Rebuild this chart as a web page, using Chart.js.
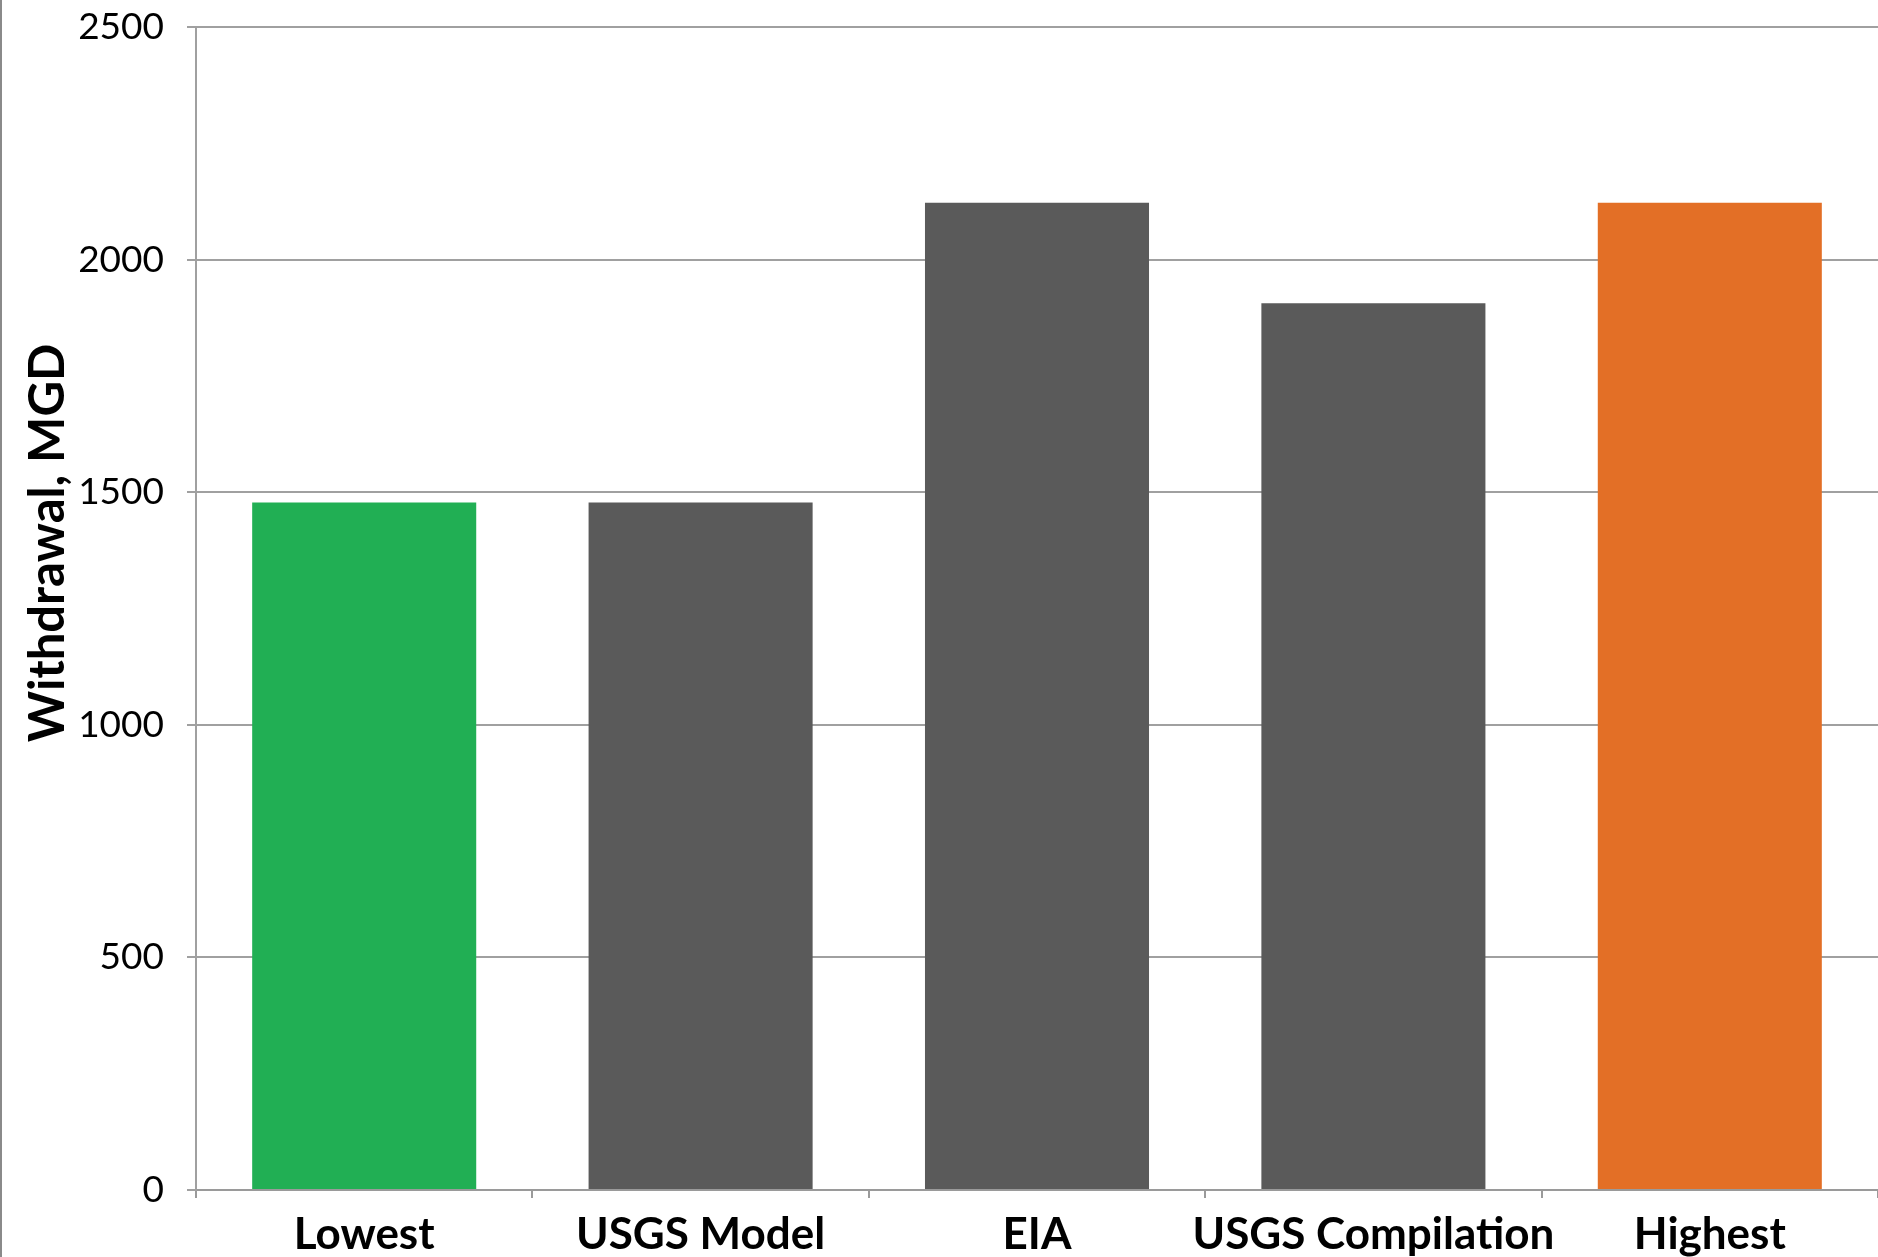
<!DOCTYPE html>
<html>
<head>
<meta charset="utf-8">
<script src="https://cdn.jsdelivr.net/npm/chart.js@4"></script>
<style>
  html, body { margin: 0; padding: 0; background: #fff; }
  #wrap { width: 1878px; height: 1257px; position: relative; border-left: 2px solid #8a8a8a; box-sizing: border-box; }
</style>
</head>
<body>
<div id="wrap"><canvas id="mycanvas"></canvas></div>
<script>
// categories and values (MGD)
var categories = ['Lowest', 'USGS Model', 'EIA', 'USGS Compilation', 'Highest'];
var withdrawal = [1478, 1478, 2122, 1906, 2122];
var barColors = ['#21AF54', '#5A5A5A', '#5A5A5A', '#5A5A5A', '#E36F26'];
var yTicks = [0, 500, 1000, 1500, 2000, 2500];

var ctx = document.getElementById('mycanvas').getContext('2d');

var barGraph = new Chart(ctx, {
  type: 'bar',
  data: {
    labels: categories,
    datasets: [{
      label: 'Withdrawal, MGD',
      data: withdrawal,
      backgroundColor: barColors,
      borderWidth: 0,
      barPercentage: 0.666,
      categoryPercentage: 1.0
    }]
  },
  options: {
    responsive: true,
    maintainAspectRatio: false,
    animation: false,
    layout: { padding: { top: 27, right: 0, bottom: 0, left: 0 } },
    plugins: {
      legend: { display: false },
      tooltip: { enabled: false }
    },
    scales: {
      x: {
        offset: true,
        grid: { drawOnChartArea: false, drawTicks: true, tickLength: 8, offset: true, color: '#9a9a9a', lineWidth: 2 },
        border: { color: '#9a9a9a', width: 2 },
        ticks: {
          color: '#000',
          padding: 10,
          maxRotation: 0,
          autoSkip: false,
          font: { family: 'Lato', size: 44, weight: 'bold' }
        },
        afterFit: function(scale) { scale.height = 67; }
      },
      y: {
        min: 0,
        max: 2500,
        afterBuildTicks: function(scale) {
          scale.ticks = yTicks.map(function(v) { return { value: v }; });
        },
        grid: { color: '#a0a0a0', lineWidth: 2, tickLength: 9 },
        border: { color: '#a0a0a0', width: 2 },
        ticks: {
          color: '#000',
          padding: 23,
          font: { family: 'Lato', size: 37 },
          callback: function(value) { return String(value); }
        },
        title: {
          display: true,
          // leading spaces lift the title above the axis centre, as in the original
          text: '           Withdrawal, MGD',
          color: '#000',
          padding: { top: 17, bottom: 0 },
          font: { family: 'Lato', size: 49, weight: 'bold' }
        },
        afterFit: function(scale) {
          scale.width = 194;
          scale.paddingTop = 0;
          scale.paddingBottom = 0;
        }
      }
    }
  }
});
</script>
</body>
</html>
